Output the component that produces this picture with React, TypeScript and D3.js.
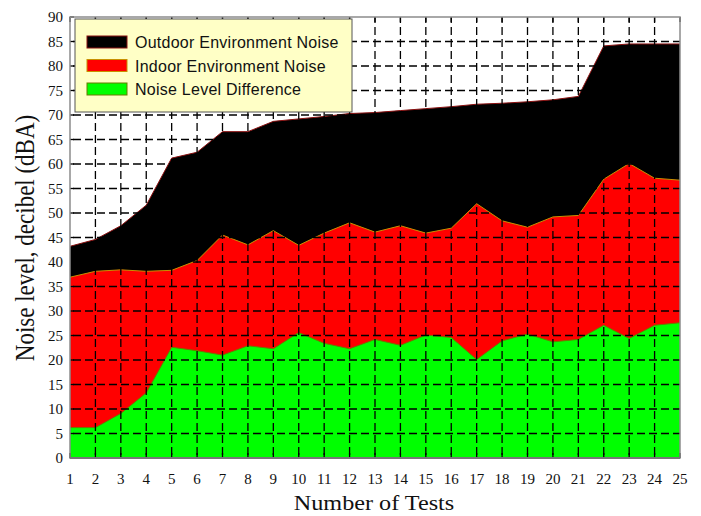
import * as d3 from "d3";

const tests = d3.range(1, 26);
const outdoorNoise = [
  43.2, 44.6, 47.4, 51.6, 61.2, 62.4, 66.6, 66.6, 68.7, 69.2, 69.7, 70.3, 70.5,
  70.9, 71.3, 71.7, 72.2, 72.4, 72.7, 73.1, 73.8, 84.1, 84.5, 84.5, 84.5,
];
const indoorNoise = [
  36.9, 38.1, 38.4, 38.1, 38.3, 40.3, 45.5, 43.5, 46.4, 43.4, 45.9, 48.0, 46.1,
  47.4, 45.9, 46.9, 51.9, 48.4, 47.1, 49.2, 49.5, 56.9, 60.1, 57.1, 56.7,
];
const levelDifference = [
  6.2, 6.2, 9.1, 13.3, 22.6, 21.9, 21.0, 22.9, 22.3, 25.6, 23.4, 22.3, 24.2,
  23.0, 25.1, 24.6, 20.1, 23.9, 25.3, 23.7, 24.2, 27.1, 24.4, 27.1, 27.6,
];
const yTicks = d3.range(0, 91, 5);

const series = [
  { name: "Outdoor Environment Noise", values: outdoorNoise, fill: "#000000", stroke: "#8a1010" },
  { name: "Indoor Environment Noise", values: indoorNoise, fill: "#ff0000", stroke: "#c89000" },
  { name: "Noise Level Difference", values: levelDifference, fill: "#00ff00", stroke: "#6a7a00" },
];

const W = 701;
const H = 516;
const left = 70;
const right = 680;
const top = 17;
const bottom = 458;

export default function App() {
  const x = d3.scaleLinear().domain([1, 25]).range([left, right]);
  const y = d3.scaleLinear().domain([0, 90]).range([bottom, top]);

  const area = (vals: number[]) =>
    d3
      .area<number>()
      .x((_, i) => x(tests[i]))
      .y0(y(0))
      .y1((d) => y(d))(vals) as string;
  const line = (vals: number[]) =>
    d3
      .line<number>()
      .x((_, i) => x(tests[i]))
      .y((d) => y(d))(vals) as string;

  const serif = "'Liberation Serif', 'Times New Roman', serif";
  const sans = "'Liberation Sans', Arial, sans-serif";

  return (
    <svg
      width={W}
      height={H}
      style={{ position: "absolute", left: 0, top: 0, background: "#fff" }}
    >
      {series.map((s) => (
        <g key={s.name}>
          <path d={area(s.values)} fill={s.fill} />
          <path d={line(s.values)} fill="none" stroke={s.stroke} strokeWidth={1} />
        </g>
      ))}

      {/* dashed grid drawn over the areas */}
      <g stroke="#000" strokeWidth={1.3} strokeDasharray="8,4">
        {tests.slice(1, -1).map((t) => (
          <line key={"v" + t} x1={x(t)} x2={x(t)} y1={bottom} y2={top} strokeDashoffset={-3} />
        ))}
        {yTicks.slice(1, -1).map((v) => (
          <line key={"h" + v} x1={left} x2={right} y1={y(v)} y2={y(v)} strokeDashoffset={-3} />
        ))}
      </g>

      {/* inner tick marks */}
      <g stroke="#000" strokeWidth={1.3}>
        {tests.map((t) => (
          <g key={"t" + t}>
            <line x1={x(t)} x2={x(t)} y1={top} y2={top + 5} />
            <line x1={x(t)} x2={x(t)} y1={bottom} y2={bottom - 5} />
          </g>
        ))}
        {yTicks.map((v) => (
          <line key={"yt" + v} x1={left} x2={left + 4} y1={y(v)} y2={y(v)} />
        ))}
      </g>

      {/* frame */}
      <rect
        x={left}
        y={top}
        width={right - left}
        height={bottom - top}
        fill="none"
        stroke="#8c8c8c"
        strokeWidth={1.5}
      />
      <line x1={left} x2={right} y1={bottom} y2={bottom} stroke="#777" strokeWidth={2} />

      {/* y tick labels */}
      <g fontFamily={serif} fontSize={15} fill="#111" textAnchor="end">
        {yTicks.map((v) => (
          <text key={v} x={63} y={y(v) + 5}>
            {v}
          </text>
        ))}
      </g>

      {/* x tick labels */}
      <g fontFamily={serif} fontSize={15} fill="#111" textAnchor="middle">
        {tests.map((t) => (
          <text key={t} x={x(t)} y={484}>
            {t}
          </text>
        ))}
      </g>

      <text
        transform="translate(374, 510) scale(1.1, 1)"
        textAnchor="middle"
        fontFamily={serif}
        fontSize={22}
        fill="#111"
      >
        Number of Tests
      </text>
      <text
        transform="translate(34, 238) scale(1.2, 1) rotate(-90)"
        textAnchor="middle"
        fontFamily={serif}
        fontSize={23}
        fill="#111"
      >
        Noise level, decibel (dBA)
      </text>

      {/* legend */}
      <rect x={75} y={19} width={277} height={93} fill="#ffffc6" stroke="#555" strokeWidth={1} />
      {series.map((s, i) => (
        <g key={"lg" + s.name} transform={`translate(0, ${i * 23.5})`}>
          <rect x={87} y={36} width={40} height={12} fill={s.fill} stroke={s.stroke} strokeWidth={1} />
          <text x={135} y={48} fontFamily={sans} fontSize={16} letterSpacing={0.25} fill="#111">
            {s.name}
          </text>
        </g>
      ))}
    </svg>
  );
}
